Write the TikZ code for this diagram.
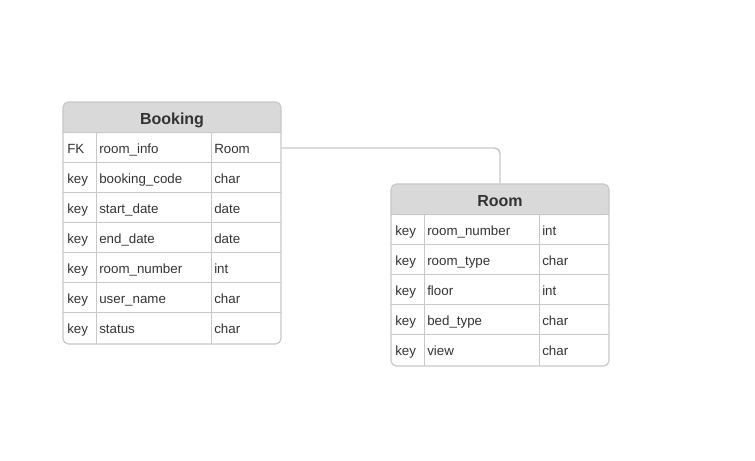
\documentclass[tikz,border=0pt]{standalone}
\usepackage{fontspec}
\setmainfont{Liberation Sans}
\definecolor{headfill}{HTML}{D9D9D9}
\definecolor{gridline}{HTML}{C8C8C8}
\definecolor{txt}{HTML}{333333}
\tikzset{
  cell/.style={anchor=west, inner sep=0pt, text height=7.2pt, text depth=2.2pt, text=txt, font=\fontsize{10}{12}\selectfont},
  title/.style={minimum width=163.5pt, minimum height=23.25pt, inner sep=0pt, text height=8.7pt, text depth=2.6pt, text=txt, font=\bfseries\fontsize{12}{14}\selectfont},
  rowbox/.style={minimum width=163.5pt, minimum height=22.5pt, inner sep=0pt},
  link/.style={draw=gridline, line width=1.1pt, rounded corners=4pt},
}
\begin{document}
\begin{tikzpicture}[x=0.75pt,y=-0.75pt]
\useasboundingbox (0,0) rectangle (755,460);

% Booking table
\fill[headfill, rounded corners=4pt] (63,102) rectangle (281,133);
\fill[headfill] (63,118) rectangle (281,133);
\node[title] (bk-head) at (172,117.5) {\raisebox{-2pt}{Booking}};
\foreach \i/\k/\f/\t in {1/FK/room\_info/Room, 2/key/booking\_code/char, 3/key/start\_date/date, 4/key/end\_date/date, 5/key/room\_number/int, 6/key/user\_name/char, 7/key/status/char}{
  \node[rowbox] (bk-r\i) at (172,118+30*\i) {};
  \draw[gridline, line width=0.7pt] (bk-r\i.north west) -- (bk-r\i.north east);
  \node[cell] (bk-k\i) at (67,120+30*\i) {\k};
  \node[cell] (bk-f\i) at (99,120+30*\i) {\f};
  \node[cell] (bk-t\i) at (214,120+30*\i) {\t};
}
\draw[gridline, line width=0.7pt] (96,133) -- (96,344) (211,133) -- (211,344);
\draw[gridline, line width=0.9pt, rounded corners=4pt] (63,102) rectangle (281,344);

% Room table
\fill[headfill, rounded corners=4pt] (391,184) rectangle (609,215);
\fill[headfill] (391,200) rectangle (609,215);
\node[title] (rm-head) at (500,199.5) {\raisebox{-2pt}{Room}};
\foreach \i/\k/\f/\t in {1/key/room\_number/int, 2/key/room\_type/char, 3/key/floor/int, 4/key/bed\_type/char, 5/key/view/char}{
  \node[rowbox] (rm-r\i) at (500,200+30*\i) {};
  \draw[gridline, line width=0.7pt] (rm-r\i.north west) -- (rm-r\i.north east);
  \node[cell] (rm-k\i) at (395,202+30*\i) {\k};
  \node[cell] (rm-f\i) at (427,202+30*\i) {\f};
  \node[cell] (rm-t\i) at (542,202+30*\i) {\t};
}
\draw[gridline, line width=0.7pt] (424,215) -- (424,366) (539,215) -- (539,366);
\draw[gridline, line width=0.9pt, rounded corners=4pt] (391,184) rectangle (609,366);

% relation
\draw[link] (bk-r1.east) -| (rm-head.north);

\end{tikzpicture}
\end{document}
